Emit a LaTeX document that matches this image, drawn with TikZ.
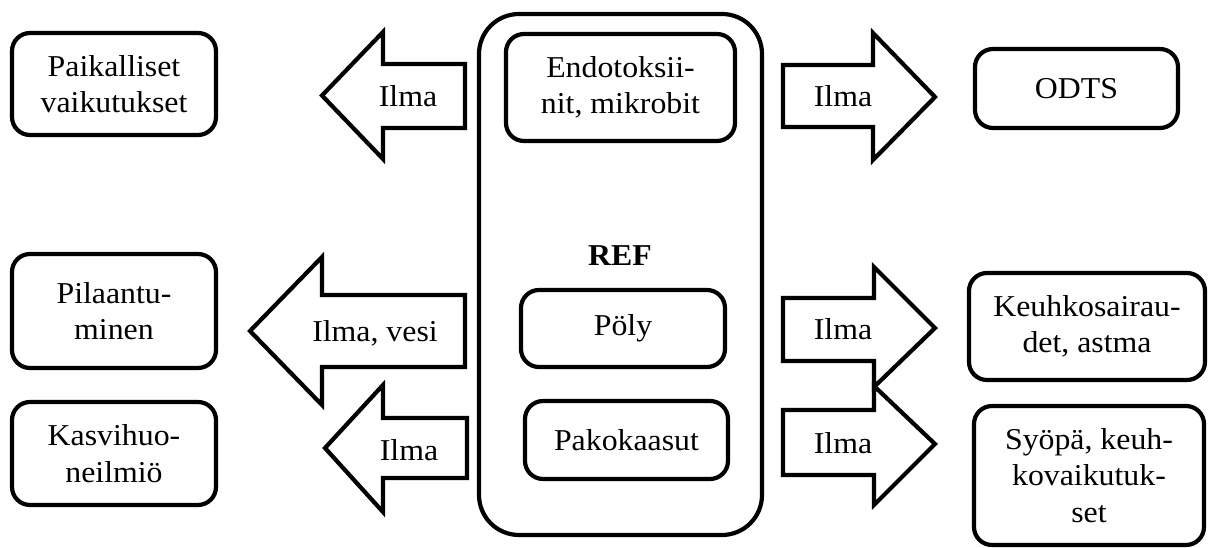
\documentclass[tikz,border=0pt]{standalone}
\usepackage{fontspec}
\setmainfont{Liberation Serif}[FakeStretch=1.05]
\begin{document}
\begin{tikzpicture}[x=1bp, y=-1bp, line width=4.2bp,
  every node/.style={font=\fontsize{30.3bp}{36.5bp}\selectfont},
  box/.style={draw, rounded corners=18bp, align=center, inner sep=0pt},
  lbl/.style={anchor=base, inner sep=0pt},
  blockarrow/.style={draw, line join=miter, miter limit=10}]
\useasboundingbox (0,0) rectangle (1208,548);

% central source container
\node[box, rounded corners=40bp, minimum width=283bp, minimum height=521bp] (ref) at (620.5,274.5) {};
\node[lbl, font=\fontsize{30.3bp}{36.5bp}\selectfont\bfseries] (reft) at (620,266) {REF};
\node[box, minimum width=229bp, minimum height=107bp] (endo) at (620.5,87.5) {Endotoksii-\\nit, mikrobit};
\node[box, minimum width=204bp, minimum height=77bp] (poly) at (623,328.5) {Pöly};
\node[box, minimum width=203bp, minimum height=78bp] (pako) at (626.5,440) {Pakokaasut};

% effects on the left
\node[box, minimum width=204bp, minimum height=102bp] (paik) at (114,84) {Paikalliset\\vaikutukset};
\node[box, minimum width=204bp, minimum height=114bp] (pila) at (114,311) {Pilaantu-\\minen};
\node[box, minimum width=204bp, minimum height=103bp] (kasv) at (114,453.5) {Kasvihuo-\\neilmiö};

% effects on the right
\node[box, minimum width=203bp, minimum height=79bp] (odts) at (1076.5,88.5) {ODTS};
\node[box, minimum width=236bp, minimum height=107bp] (keuh) at (1087,326.5) {Keuhkosairau-\\det, astma};
\node[box, minimum width=230bp, minimum height=139bp] (syop) at (1089,475.5) {Syöpä, keuh-\\kovaikutuk-\\set};

% block arrows pointing left
\draw[blockarrow] (465,64) -- (383,64) -- (383,32) -- (322,95.5) -- (383,159) -- (383,128) -- (465,128) -- cycle;
\node[lbl] (a1) at (408,107) {Ilma};
\draw[blockarrow] (465,295) -- (322,295) -- (322,257) -- (250,331) -- (322,405) -- (322,367) -- (465,367) -- cycle;
\node[lbl] (a2) at (375,342) {Ilma, vesi};
\draw[blockarrow] (467,418) -- (383,418) -- (383,385) -- (325,448) -- (383,512) -- (383,478) -- (467,478) -- cycle;
\node[lbl] (a3) at (409,460) {Ilma};

% block arrows pointing right
\draw[blockarrow] (783,65) -- (873,65) -- (873,33) -- (935,97) -- (873,160) -- (873,127) -- (783,127) -- cycle;
\node[lbl] (a4) at (843,107) {Ilma};
\draw[blockarrow] (783,298) -- (874,298) -- (874,267) -- (935,328) -- (874,387) -- (874,361) -- (783,361) -- cycle;
\node[lbl] (a5) at (843,340) {Ilma};
\draw[blockarrow] (783,410) -- (874,410) -- (874,386) -- (935,444) -- (874,505) -- (874,475) -- (783,475) -- cycle;
\node[lbl] (a6) at (843,453) {Ilma};
\end{tikzpicture}
\end{document}
